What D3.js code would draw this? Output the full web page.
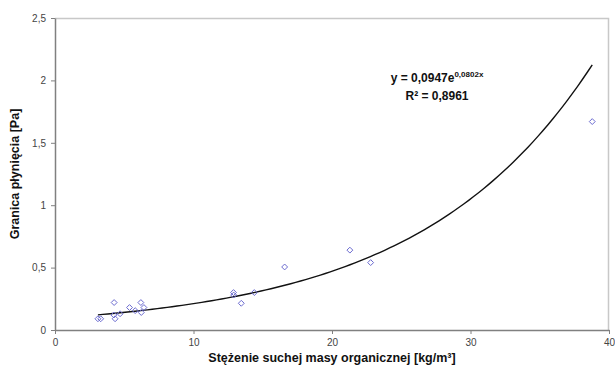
<!DOCTYPE html>
<html>
<head>
<meta charset="utf-8">
<script src="https://cdn.jsdelivr.net/npm/d3@7"></script>
<style>
  body { margin: 0; background: #fff; }
  svg { font-family: Arial, "Liberation Sans", sans-serif; }
  .tick text { fill: #444; font-size: 10px; }
</style>
</head>
<body>
<div id="chart"></div>
<script>
// measured points (x = stężenie, y = granica płynięcia)
const xVals = [3.1, 3.3, 4.27, 4.34, 4.25, 4.7, 5.38, 5.79, 6.2, 6.42, 6.23, 12.89, 12.9, 13.45, 14.39, 16.58, 21.29, 22.79, 38.79];
const yVals = [0.09, 0.09, 0.22, 0.09, 0.12, 0.13, 0.18, 0.155, 0.22, 0.18, 0.14, 0.30, 0.28, 0.214, 0.30, 0.505, 0.64, 0.54, 1.67];
const xTicks = [0, 10, 20, 30, 40];
const yTicks = [0, 0.5, 1, 1.5, 2, 2.5];
const fitA = 0.0947, fitB = 0.0802;

const margin = {top: 18, right: 6, bottom: 41, left: 55};
const W = 615, H = 371;
const width = W - margin.left - margin.right;
const height = H - margin.top - margin.bottom;

const fmt = d => String(d).replace(".", ",");

const svg = d3.select("#chart").append("svg")
  .attr("width", W)
  .attr("height", H);

const g = svg.append("g")
  .attr("transform", "translate(" + margin.left + "," + margin.top + ")");

const x = d3.scaleLinear().domain([0, 40]).range([0, width]);
const y = d3.scaleLinear().domain([0, 2.5]).range([height, 0]);

// plot border (top and right)
g.append("path")
  .attr("d", "M0,0.5H" + (width - 0.5) + "V" + height)
  .attr("fill", "none")
  .attr("stroke", "#c8c8c8")
  .attr("stroke-width", 1.5);

const xAxis = g.append("g")
  .attr("transform", "translate(0," + height + ")")
  .call(d3.axisBottom(x).tickValues(xTicks).tickSize(4).tickSizeOuter(0).tickFormat(fmt));
const yAxis = g.append("g")
  .call(d3.axisLeft(y).tickValues(yTicks).tickSize(4).tickSizeOuter(0).tickFormat(fmt));

[xAxis, yAxis].forEach(a => {
  a.select(".domain").attr("stroke", "#808080").attr("stroke-width", 1.5);
  a.selectAll(".tick line").attr("stroke", "#808080");
});
xAxis.selectAll(".tick text").attr("dy", "0.9em");
yAxis.selectAll(".tick text").attr("dx", "-2");

// trend line
const xMin = d3.min(xVals), xMax = d3.max(xVals);
const curve = d3.range(0, 101).map(i => {
  const xv = xMin + (xMax - xMin) * i / 100;
  return [xv, fitA * Math.exp(fitB * xv)];
});
g.append("path")
  .datum(curve)
  .attr("fill", "none")
  .attr("stroke", "#111")
  .attr("stroke-width", 1.4)
  .attr("d", d3.line().x(d => x(d[0])).y(d => y(d[1])));

// points
const diamond = d3.symbol().type(d3.symbolDiamond2).size(22);
g.selectAll(".pt")
  .data(xVals.map((v, i) => [v, yVals[i]]))
  .join("path")
  .attr("class", "pt")
  .attr("transform", d => "translate(" + x(d[0]) + "," + y(d[1]) + ")")
  .attr("d", diamond)
  .attr("fill", "none")
  .attr("stroke", "#6b6bd0")
  .attr("stroke-width", 1);

// equation
const eq = svg.append("text")
  .attr("x", 437).attr("y", 82)
  .attr("text-anchor", "middle")
  .attr("font-size", 12).attr("font-weight", "bold").attr("fill", "#111");
eq.append("tspan").text("y = 0,0947e");
eq.append("tspan").attr("font-size", 8).attr("dy", -5).text("0,0802x");
svg.append("text")
  .attr("x", 437).attr("y", 100)
  .attr("text-anchor", "middle")
  .attr("font-size", 12).attr("font-weight", "bold").attr("fill", "#111")
  .text("R² = 0,8961");

// axis titles
svg.append("text")
  .attr("x", margin.left + width / 2).attr("y", 362)
  .attr("text-anchor", "middle")
  .attr("font-size", 12.5).attr("font-weight", "bold").attr("fill", "#111")
  .text("Stężenie suchej masy organicznej [kg/m³]");
svg.append("text")
  .attr("transform", "translate(19," + (margin.top + height / 2) + ") rotate(-90)")
  .attr("text-anchor", "middle")
  .attr("font-size", 12.5).attr("font-weight", "bold").attr("fill", "#111")
  .text("Granica płynięcia [Pa]");
</script>
</body>
</html>
